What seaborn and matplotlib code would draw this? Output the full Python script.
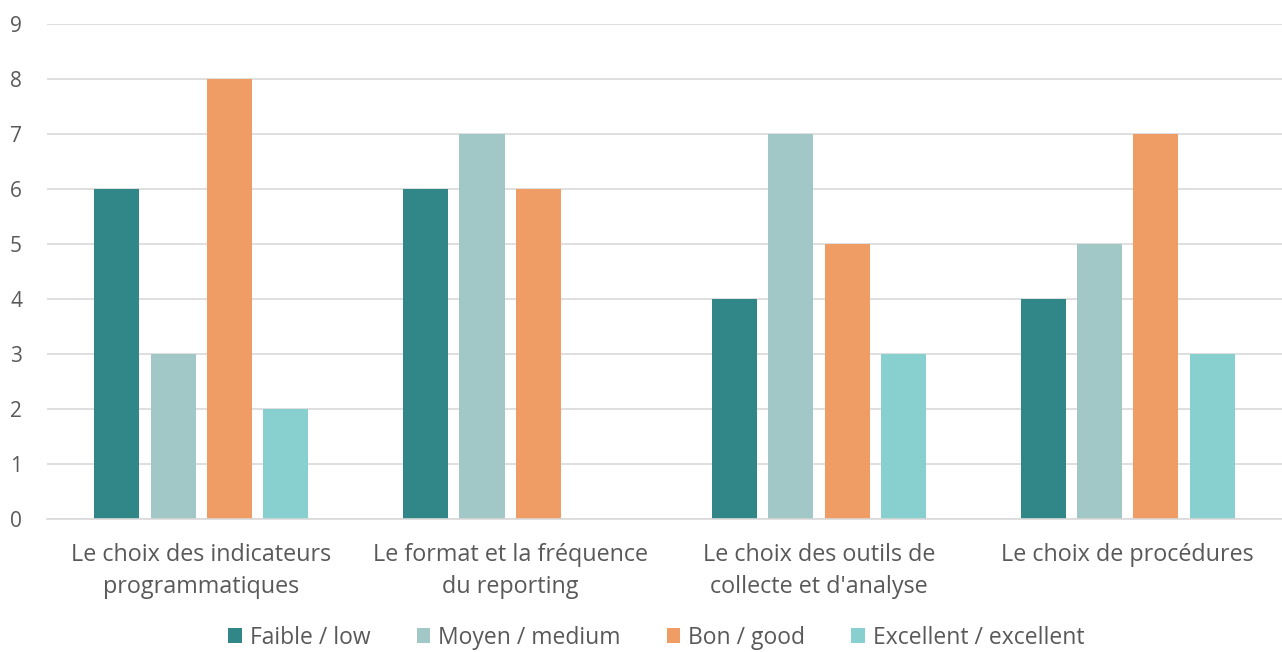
import matplotlib.pyplot as plt
import seaborn as sns
import pandas as pd
import numpy as np

categories = ["Le choix des indicateurs\nprogrammatiques",
              "Le format et la fréquence\ndu reporting",
              "Le choix des outils de\ncollecte et d'analyse",
              "Le choix de procédures"]
series = ["Faible / low", "Moyen / medium", "Bon / good", "Excellent / excellent"]
faible = [6, 6, 4, 4]
moyen = [3, 7, 7, 5]
bon = [8, 6, 5, 7]
excellent = [2, np.nan, 3, 3]
colors = ["#318787", "#A2C7C7", "#EF9D64", "#88D0D0"]

rows = []
for name, vals in zip(series, [faible, moyen, bon, excellent]):
    for cat, v in zip(categories, vals):
        rows.append({"cat": cat, "serie": name, "val": v})
df = pd.DataFrame(rows)

sns.set_style("white")
plt.rcParams['font.family'] = ['Open Sans', 'DejaVu Sans']
txt = "#595959"

fig = plt.figure(figsize=(12.82, 6.52), dpi=100)
ax = fig.add_axes([0.0367, 0.204, 0.9633, 0.759])
sns.barplot(data=df, x="cat", y="val", hue="serie", palette=colors,
            width=0.73, gap=0.2, ax=ax, legend=True, saturation=1,
            linewidth=0)

ax.set_ylim(0, 9)
ax.set_yticks(range(0, 10))
ax.set_xlim(-0.5, 3.5)
ax.yaxis.grid(True, color="#D9D9D9", linewidth=1.2)
ax.set_axisbelow(True)
for s in ["top", "right", "left"]:
    ax.spines[s].set_visible(False)
ax.spines["bottom"].set_color("#D9D9D9")
ax.spines["bottom"].set_linewidth(1.2)
ax.tick_params(axis="y", length=0, labelsize=15, colors=txt, pad=18)
ax.tick_params(axis="x", length=0, labelsize=16.8, colors=txt, pad=17)
for lbl in ax.get_xticklabels():
    lbl.set_linespacing(1.45)
ax.set_xlabel("")
ax.set_ylabel("")

handles, labels = ax.get_legend_handles_labels()
ax.get_legend().remove()
fig.legend(handles, labels, loc="center", bbox_to_anchor=(0.512, 0.022),
           ncol=4, frameon=False, fontsize=16.5, labelcolor=txt,
           handlelength=0.6, handleheight=0.6, handletextpad=0.35,
           columnspacing=2.0, borderpad=0.1)

fig.savefig("out.png", dpi=100)
